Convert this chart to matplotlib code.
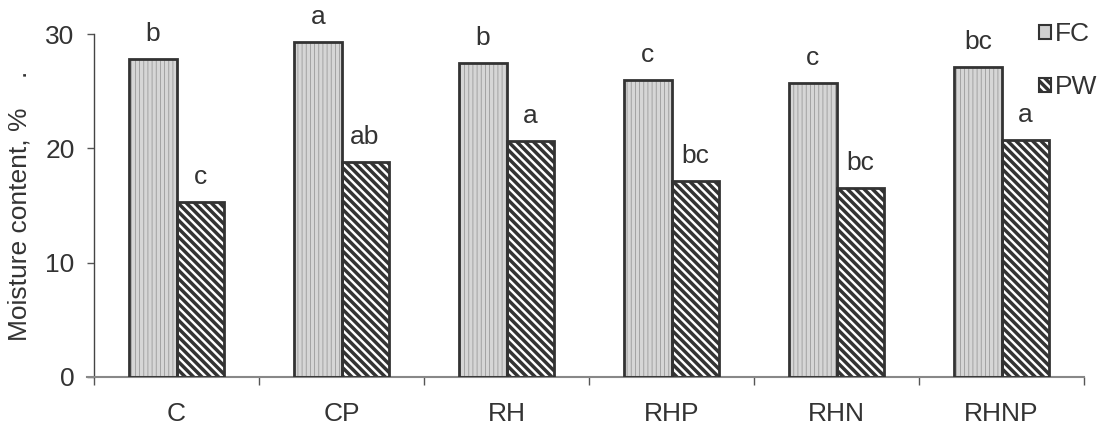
import matplotlib
matplotlib.use("Agg")
import matplotlib.pyplot as plt
from matplotlib.patches import Patch
import numpy as np

categories = ["C", "CP", "RH", "RHP", "RHN", "RHNP"]
fc_values = [27.8, 29.3, 27.5, 26.0, 25.7, 27.1]
pw_values = [15.3, 18.8, 20.6, 17.1, 16.5, 20.7]
fc_letters = ["b", "a", "b", "c", "c", "bc"]
pw_letters = ["c", "ab", "a", "bc", "bc", "a"]
yticks = [0, 10, 20, 30]

plt.rcParams['font.family'] = ['Liberation Sans', 'DejaVu Sans']
FS = 19
TXT = '#333333'

fig = plt.figure(figsize=(11.10, 4.26), dpi=100)
ax = fig.add_axes([94/1110, 49/426, 990/1110, 343/426])

x = np.arange(len(categories)) + 0.5
w = 0.285

plt.rcParams['hatch.linewidth'] = 0.6
ax.bar(x - w/2, fc_values, w, facecolor='#d6d6d6', edgecolor='#9a9a9a',
       hatch='||||', linewidth=0, zorder=2)
ax.bar(x - w/2, fc_values, w, fill=False, edgecolor='#333333', linewidth=2.0, zorder=3)
fc_handle = Patch(facecolor='#d0d0d0', edgecolor='#333333', linewidth=1.5, label='FC')

plt.rcParams['hatch.linewidth'] = 2.5
ax.bar(x + w/2, pw_values, w, facecolor='white', edgecolor='#333333',
       hatch='\\\\\\\\', linewidth=0, zorder=2)
ax.bar(x + w/2, pw_values, w, fill=False, edgecolor='#333333', linewidth=2.0, zorder=3)
pw_handle = Patch(facecolor='white', edgecolor='#333333', hatch='\\\\\\\\',
                  linewidth=1.5, label='PW')

for xi, v, t in zip(x - w/2, fc_values, fc_letters):
    ax.annotate(t, (xi, v), xytext=(0, 13), textcoords='offset points',
                ha='center', va='baseline', fontsize=FS, color=TXT)
for xi, v, t in zip(x + w/2, pw_values, pw_letters):
    ax.annotate(t, (xi, v), xytext=(0, 13), textcoords='offset points',
                ha='center', va='baseline', fontsize=FS, color=TXT)

ax.set_xlim(0, len(categories))
ax.set_ylim(0, 30)
ax.set_yticks(yticks)
ax.set_yticklabels([str(t) for t in yticks], fontsize=FS, color=TXT)
ax.tick_params(axis='y', length=5, width=1, color='#555555', pad=9)

ax.set_xticks(np.arange(len(categories) + 1))
ax.set_xticklabels([])
ax.set_xticks(x, minor=True)
ax.set_xticklabels(categories, minor=True, fontsize=FS, color=TXT)
ax.tick_params(axis='x', which='major', length=6, width=1, color='#555555', direction='out')
ax.tick_params(axis='x', which='minor', length=0, pad=18)

for s in ['top', 'right']:
    ax.spines[s].set_visible(False)
ax.spines['left'].set_color('#444444')
ax.spines['bottom'].set_color('#888888')
ax.spines['left'].set_linewidth(1.0)
ax.spines['bottom'].set_linewidth(1.5)
ax.spines['bottom'].set_bounds(-0.045, len(categories))

ax.set_ylabel("Moisture content, %    .", fontsize=FS, color=TXT, labelpad=10)

leg = fig.legend(handles=[fc_handle, pw_handle], labels=['FC', 'PW'],
                 loc='upper left', bbox_to_anchor=(1039/1110, 1 - 22/426),
                 frameon=False, fontsize=FS, handlelength=0.45, handleheight=0.45,
                 handletextpad=0.15, labelspacing=1.1, borderpad=0, borderaxespad=0)
for t in leg.get_texts():
    t.set_color(TXT)

fig.savefig("out.png", dpi=100)
